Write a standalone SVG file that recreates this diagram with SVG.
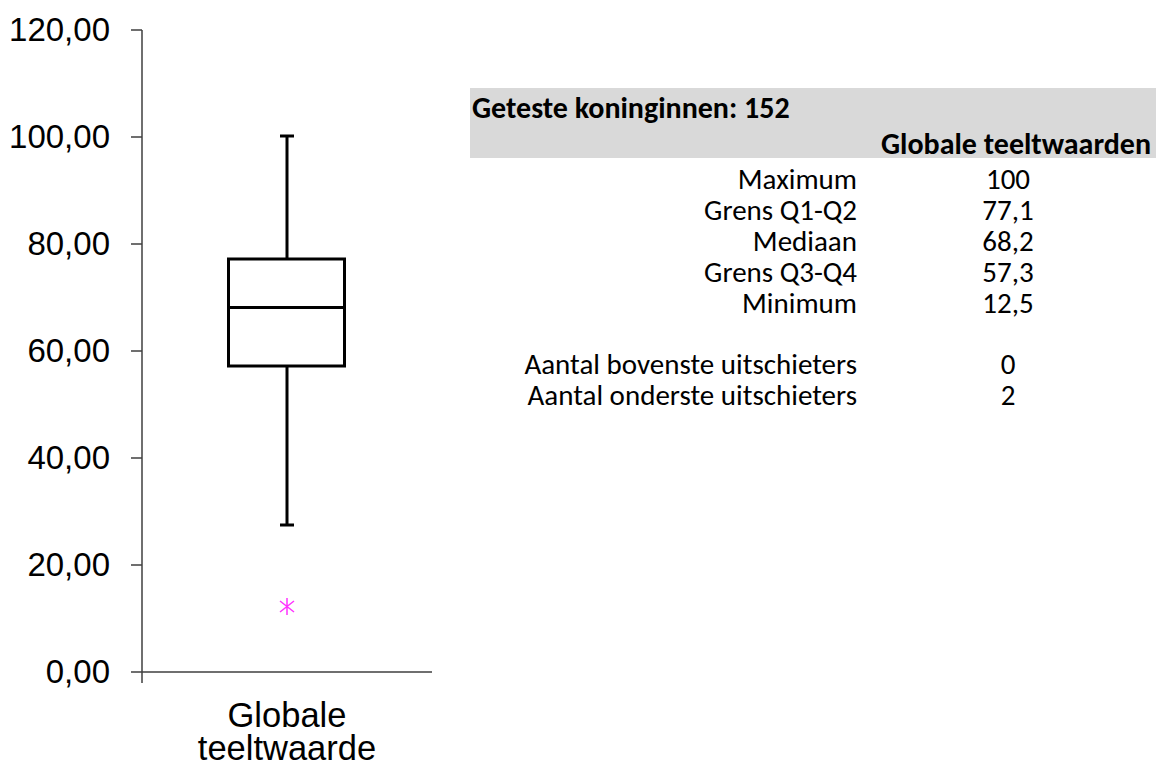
<svg xmlns="http://www.w3.org/2000/svg" width="1156" height="765" viewBox="0 0 1156 765">
<style>
.ax{font-family:"Liberation Sans",Arial,sans-serif;font-size:33px;fill:#000}
.xl{font-size:34.5px}
.yl{text-anchor:end}
.tb{font-family:Carlito,Lato,"Open Sans",sans-serif;font-size:29px;fill:#000}
.b{font-weight:bold;font-size:30px}
.r{text-anchor:end}
.c{text-anchor:middle}
.axis{stroke:#404040;stroke-width:1.5;fill:none}
.bx{stroke:#000;stroke-width:3;fill:none}
</style>
<rect width="1156" height="765" fill="#fff"/>
<g id="axes">
<path class="axis" d="M142,30V683M131,30H142M131,137H142M131,244H142M131,351H142M131,458H142M131,565H142M131,672H432"/>
<text class="ax yl" x="110" y="41">120,00</text>
<text class="ax yl" x="110" y="148">100,00</text>
<text class="ax yl" x="110" y="255">80,00</text>
<text class="ax yl" x="110" y="362">60,00</text>
<text class="ax yl" x="110" y="469">40,00</text>
<text class="ax yl" x="110" y="576">20,00</text>
<text class="ax yl" x="110" y="683">0,00</text>
<text class="ax xl c" x="287" y="727">Globale</text>
<text class="ax xl c" x="287" y="760">teeltwaarde</text>
</g>
<g id="boxplot">
<path class="bx" d="M287,136V259M280,136H294M287,366V525M280,525H294"/>
<rect class="bx" x="228.5" y="259" width="116" height="107"/>
<path class="bx" d="M228.5,307.5H344.5"/>
</g>
<g id="outlier">
<path d="M287,598V615M280,601L294,612M280,612L294,601" stroke="#ff33ff" stroke-width="1.5" fill="none"/>
</g>
<g id="table">
<rect x="470" y="88" width="686" height="70" fill="#d9d9d9"/>
<text class="tb b" x="472" y="118">Geteste koninginnen: 152</text>
<text class="tb b r" x="1151" y="154">Globale teeltwaarden</text>
<text class="tb r" x="857" y="189">Maximum</text>
<text class="tb r" x="857" y="220">Grens Q1-Q2</text>
<text class="tb r" x="857" y="251">Mediaan</text>
<text class="tb r" x="857" y="282">Grens Q3-Q4</text>
<text class="tb r" x="857" y="313">Minimum</text>
<text class="tb r" x="857" y="374">Aantal bovenste uitschieters</text>
<text class="tb r" x="857" y="405">Aantal onderste uitschieters</text>
<text class="tb c" x="1008" y="189">100</text>
<text class="tb c" x="1008" y="220">77,1</text>
<text class="tb c" x="1008" y="251">68,2</text>
<text class="tb c" x="1008" y="282">57,3</text>
<text class="tb c" x="1008" y="313">12,5</text>
<text class="tb c" x="1008" y="374">0</text>
<text class="tb c" x="1008" y="405">2</text>
</g>
</svg>
